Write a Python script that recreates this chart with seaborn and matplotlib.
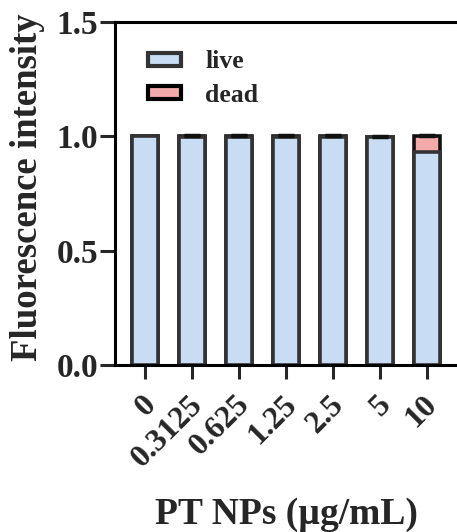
import matplotlib
matplotlib.use("Agg")
import matplotlib.pyplot as plt
import seaborn as sns
import pandas as pd
import numpy as np
from matplotlib.patches import Patch
from matplotlib.transforms import ScaledTranslation

categories = ["0", "0.3125", "0.625", "1.25", "2.5", "5", "10"]
live = [1.0, 0.995, 0.995, 0.995, 0.995, 0.995, 0.93]
dead = [0.0, 0.005, 0.005, 0.005, 0.005, 0.004, 0.07]
err = [0.0, 0.006, 0.006, 0.005, 0.006, 0.004, 0.006]

sns.set_style("white")
plt.rcParams["font.family"] = ["Liberation Serif", "DejaVu Serif"]
plt.rcParams["font.weight"] = "bold"

df = pd.DataFrame({"conc": categories, "live": live, "dead": dead, "err": err})
df["total"] = df["live"] + df["dead"]

fig = plt.figure(figsize=(4.57, 5.32), dpi=100)
ax = fig.add_axes([0.2516, 0.3139, 0.7484, 0.6447])

edge = "#333333"
sns.barplot(data=df, x="conc", y="total", color="#f4a9ab", edgecolor="#111111",
            linewidth=2.6, width=0.57, saturation=1, ax=ax, errorbar=None)
sns.barplot(data=df, x="conc", y="live", color="#c8ddf4", edgecolor=edge,
            linewidth=2.6, width=0.57, saturation=1, ax=ax, errorbar=None)
xs = np.arange(len(categories))
mask = df["err"].values > 0
ax.errorbar(xs[mask], df["total"].values[mask],
            yerr=[np.zeros(mask.sum()), df["err"].values[mask]], fmt="none",
            ecolor="#111111", elinewidth=2.5, capsize=6, capthick=2.5)

ax.set_xlim(-0.64, 6.64)
ax.set_ylim(0, 1.5)
ax.set_yticks([0.0, 0.5, 1.0, 1.5])
ax.set_yticklabels(["0.0", "0.5", "1.0", "1.5"])
ax.tick_params(axis="y", direction="out", length=11, width=2.2, labelsize=24, pad=1)
ax.tick_params(axis="x", direction="out", length=10, width=2.2, labelsize=23, pad=8)
shift = ScaledTranslation(-4 / 100, 0, fig.dpi_scale_trans)
for lab in ax.get_xticklabels():
    lab.set_rotation(45)
    lab.set_ha("right")
    lab.set_rotation_mode("anchor")
    lab.set_fontweight("bold")
    lab.set_transform(lab.get_transform() + shift)
plt.setp(ax.get_yticklabels(), fontweight="bold")
ax.yaxis.set_ticks_position("left")
ax.xaxis.set_ticks_position("bottom")

for s in ["left", "bottom", "top"]:
    ax.spines[s].set_visible(True)
    ax.spines[s].set_linewidth(2.2)
    ax.spines[s].set_color("black")
ax.spines["right"].set_visible(False)

ax.set_ylabel("Fluorescence intensity", fontsize=26.5, fontweight="bold")
ax.yaxis.set_label_coords(-0.205, 0.517)
ax.set_xlabel("PT NPs (µg/mL)", fontsize=27, fontweight="bold")
ax.xaxis.set_label_coords(0.5, -0.386)

handles = [Patch(facecolor="#c8ddf4", edgecolor=edge, linewidth=3.0, label="live"),
           Patch(facecolor="#f4a9ab", edgecolor="black", linewidth=3.0, label="dead")]
ax.legend(handles=handles, loc="upper left", bbox_to_anchor=(0.028, 0.985), frameon=False,
          prop={"family": "Liberation Serif", "weight": "bold", "size": 18.5},
          handlelength=1.3, handleheight=0.4, handletextpad=0.95, labelspacing=0.4)

fig.savefig("out.png", dpi=100)
